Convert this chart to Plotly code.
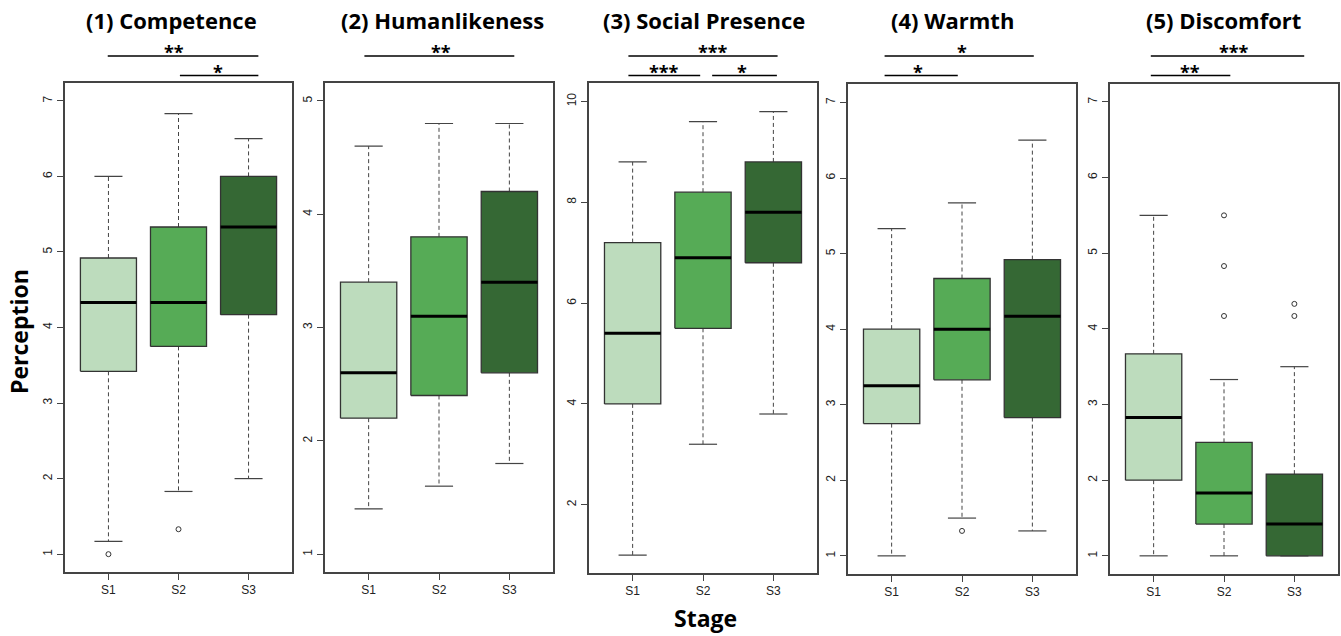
import plotly.graph_objects as go

# ---------------- data ----------------
groups = ["S1", "S2", "S3"]
titles = ["(1) Competence", "(2) Humanlikeness", "(3) Social Presence", "(4) Warmth", "(5) Discomfort"]

comp_low = [1.17, 1.83, 2.0]
comp_q1 = [3.42, 3.75, 4.17]
comp_med = [4.33, 4.33, 5.33]
comp_q3 = [4.92, 5.33, 6.0]
comp_up = [6.0, 6.83, 6.5]
comp_out = [[1.0], [1.33], []]

human_low = [1.4, 1.6, 1.8]
human_q1 = [2.2, 2.4, 2.6]
human_med = [2.6, 3.1, 3.4]
human_q3 = [3.4, 3.8, 4.2]
human_up = [4.6, 4.8, 4.8]
human_out = [[], [], []]

social_low = [1.0, 3.2, 3.8]
social_q1 = [4.0, 5.5, 6.8]
social_med = [5.4, 6.9, 7.8]
social_q3 = [7.2, 8.2, 8.8]
social_up = [8.8, 9.6, 9.8]
social_out = [[], [], []]

warm_low = [1.0, 1.5, 1.33]
warm_q1 = [2.75, 3.33, 2.83]
warm_med = [3.25, 4.0, 4.17]
warm_q3 = [4.0, 4.67, 4.92]
warm_up = [5.33, 5.67, 6.5]
warm_out = [[], [1.33], []]

disc_low = [1.0, 1.0, 1.0]
disc_q1 = [2.0, 1.42, 1.0]
disc_med = [2.83, 1.83, 1.42]
disc_q3 = [3.67, 2.5, 2.08]
disc_up = [5.5, 3.33, 3.5]
disc_out = [[], [5.5, 4.83, 4.17], [4.33, 4.17]]

y_ticks = [[1, 2, 3, 4, 5, 6, 7], [1, 2, 3, 4, 5], [2, 4, 6, 8, 10], [1, 2, 3, 4, 5, 6, 7], [1, 2, 3, 4, 5, 6, 7]]
y_limits = [[1, 7], [1, 5], [1, 10], [1, 7], [1, 7]]

# significance labels per panel: (label, row)
sig_labels = [
    [("**", 0), ("*", 1)],
    [("**", 0)],
    [("***", 0), ("***", 1), ("*", 1)],
    [("*", 0), ("*", 1)],
    [("***", 0), ("**", 1)],
]

panels = [
    (comp_low, comp_q1, comp_med, comp_q3, comp_up, comp_out),
    (human_low, human_q1, human_med, human_q3, human_up, human_out),
    (social_low, social_q1, social_med, social_q3, social_up, social_out),
    (warm_low, warm_q1, warm_med, warm_q3, warm_up, warm_out),
    (disc_low, disc_q1, disc_med, disc_q3, disc_up, disc_out),
]

# ---------------- style / layout ----------------
W, H = 1341, 636
colors = ["#BDDCBD", "#56AB56", "#356834"]
frames_px = [(65, 292, 82.7, 572.3), (325, 553, 82.7, 572.3), (589, 817, 83.3, 573.3),
             (848, 1076, 84.3, 574), (1110, 1338, 83.7, 574)]
# significance bar extents (x in axis units) and label x-positions
sig_geom = [
    [((0.99, 3.14), 1.94), ((2.02, 3.14), 2.57)],
    [((0.94, 3.07), 2.03)],
    [((0.94, 3.06), 2.14), ((0.94, 1.96), 1.44), ((2.13, 3.05), 2.55)],
    [((0.90, 3.02), 2.00), ((0.90, 1.94), 1.38)],
    [((0.96, 3.14), 2.14), ((0.96, 2.09), 1.52)],
]
row_y_px = [56.0, 75.5]
title_x_px = [171, 442.5, 704, 952.5, 1223.5]

fig = go.Figure()
BW = 0.4
CAP = 0.2
line_col = "#333333"

for p, (low, q1, med, q3, up, outs) in enumerate(panels):
    xa = "x" if p == 0 else f"x{p+1}"
    ya = "y" if p == 0 else f"y{p+1}"
    for i in range(3):
        xc = i + 1
        # dashed whiskers
        fig.add_trace(go.Scatter(x=[xc, xc, None, xc, xc], y=[q3[i], up[i], None, q1[i], low[i]],
                                 mode="lines", line=dict(color="#444444", width=1, dash="4px,3px"),
                                 xaxis=xa, yaxis=ya, showlegend=False, hoverinfo="skip"))
        # caps
        fig.add_trace(go.Scatter(x=[xc - CAP, xc + CAP, None, xc - CAP, xc + CAP],
                                 y=[up[i], up[i], None, low[i], low[i]],
                                 mode="lines", line=dict(color="#444444", width=1.2),
                                 xaxis=xa, yaxis=ya, showlegend=False, hoverinfo="skip"))
        # box
        fig.add_trace(go.Scatter(x=[xc - BW, xc + BW, xc + BW, xc - BW, xc - BW],
                                 y=[q1[i], q1[i], q3[i], q3[i], q1[i]],
                                 mode="lines", fill="toself", fillcolor=colors[i],
                                 line=dict(color=line_col, width=1.3),
                                 xaxis=xa, yaxis=ya, showlegend=False, hoverinfo="skip"))
        # median
        fig.add_trace(go.Scatter(x=[xc - BW, xc + BW], y=[med[i], med[i]],
                                 mode="lines", line=dict(color="black", width=3),
                                 xaxis=xa, yaxis=ya, showlegend=False, hoverinfo="skip"))
        # outliers
        if outs[i]:
            fig.add_trace(go.Scatter(x=[xc] * len(outs[i]), y=outs[i], mode="markers",
                                     marker=dict(symbol="circle-open", size=5, color="#333333",
                                                 line=dict(color="#333333", width=1)),
                                     xaxis=xa, yaxis=ya, showlegend=False, hoverinfo="skip"))

layout = dict(width=W, height=H, margin=dict(l=0, r=0, t=0, b=0),
              paper_bgcolor="white", plot_bgcolor="white", showlegend=False)

tick_font = dict(family="Liberation Sans, Arial", size=12, color="#222222")
for p in range(5):
    x0, x1, yt, yb = frames_px[p]
    lo, hi = y_limits[p]
    pad = (hi - lo) * 0.04
    xk = "xaxis" if p == 0 else f"xaxis{p+1}"
    yk = "yaxis" if p == 0 else f"yaxis{p+1}"
    layout[xk] = dict(domain=[x0 / W, x1 / W], range=[0.38, 3.62], anchor="y" if p == 0 else f"y{p+1}",
                      tickmode="array", tickvals=[1, 2, 3], ticktext=groups, ticks="outside",
                      ticklen=6, tickcolor="#444444", showline=True, mirror=True, linecolor="#444444",
                      linewidth=1.5, showgrid=False, zeroline=False, tickfont=tick_font, fixedrange=True)
    layout[yk] = dict(domain=[1 - yb / H, 1 - yt / H], range=[lo - pad, hi + pad],
                      anchor="x" if p == 0 else f"x{p+1}",
                      tickmode="array", tickvals=y_ticks[p], ticks="outside", ticklen=6,
                      tickcolor="#444444", tickangle=-90, showline=True, mirror=True,
                      linecolor="#444444", linewidth=1.5, showgrid=False, zeroline=False,
                      tickfont=tick_font, fixedrange=True)

fig.update_layout(**layout)

annotations = []
shapes = []
title_font = dict(family="Open Sans", size=22, color="black")
axis_font = dict(family="Open Sans", size=23, color="black")
for p in range(5):
    annotations.append(dict(text=f"<b>{titles[p]}</b>", x=title_x_px[p] / W, y=1 - 20 / H,
                            xref="paper", yref="paper", showarrow=False, xanchor="center",
                            yanchor="middle", font=title_font))
    xr = "x" if p == 0 else f"x{p+1}"
    for (label, row), ((bx0, bx1), lx) in zip(sig_labels[p], sig_geom[p]):
        yb = 1 - row_y_px[row] / H
        shapes.append(dict(type="line", xref=xr, yref="paper", x0=bx0, x1=bx1, y0=yb, y1=yb,
                           line=dict(color="black", width=1.5)))
        annotations.append(dict(text=f"<b>{label}</b>", x=lx, xref=xr, y=1 - (row_y_px[row] - 4) / H,
                                yref="paper", showarrow=False, xanchor="center", yanchor="middle",
                                font=dict(family="Open Sans", size=18, color="black")))

annotations.append(dict(text="<b>Perception</b>", x=19 / W, y=1 - 332 / H, xref="paper", yref="paper",
                        showarrow=False, textangle=-90, xanchor="center", yanchor="middle", font=axis_font))
annotations.append(dict(text="<b>Stage</b>", x=705 / W, y=1 - 618 / H, xref="paper", yref="paper",
                        showarrow=False, xanchor="center", yanchor="middle", font=axis_font))

fig.update_layout(annotations=annotations, shapes=shapes)
fig.write_html("out.html", config={"displayModeBar": False},
               post_script="document.body.style.margin='0';document.body.style.overflow='hidden';")
